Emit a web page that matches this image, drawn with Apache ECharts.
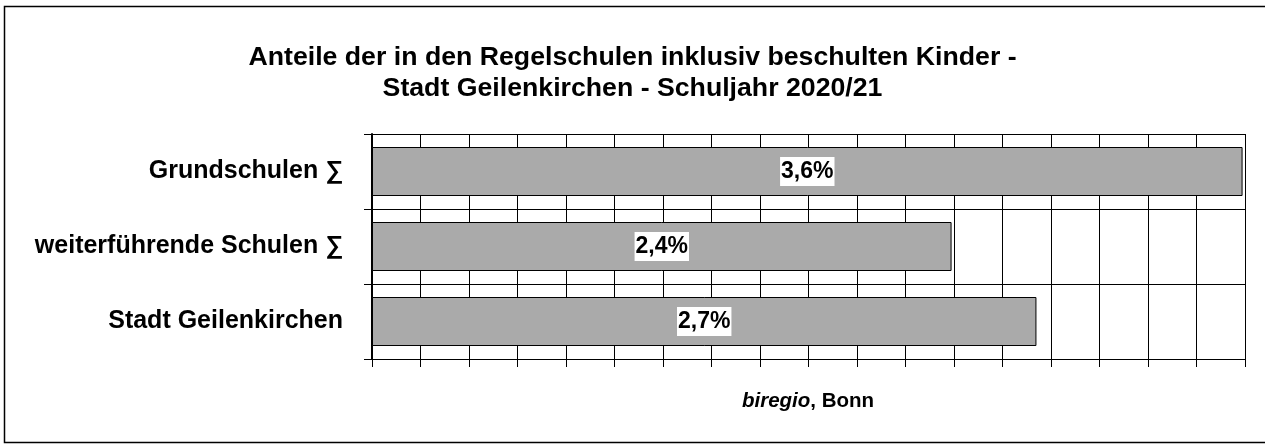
<!DOCTYPE html>
<html>
<head>
<meta charset="utf-8">
<script src="https://cdn.jsdelivr.net/npm/echarts@6/dist/echarts.min.js"></script>
<style>
html,body{margin:0;padding:0;background:#fff;}
#c{width:1265px;height:444px;}
</style>
</head>
<body>
<div id="c"></div>
<script>
var categories = ['Grundschulen \u2211', 'weiterführende Schulen \u2211', 'Stadt Geilenkirchen'];
var values = [3.59, 2.39, 2.74];
var valueLabels = ['3,6%', '2,4%', '2,7%'];
var titleLines = ['Anteile der in den Regelschulen inklusiv beschulten Kinder -', 'Stadt Geilenkirchen - Schuljahr 2020/21'];

var chart = echarts.init(document.getElementById('c'));
var FONT = '"Liberation Sans", Arial, sans-serif';
chart.setOption({
  backgroundColor: '#fff',
  animation: false,
  textStyle: { fontFamily: FONT },
  title: {
    text: titleLines.join('\n'),
    left: 'center',
    top: 37,
    textStyle: { fontFamily: FONT, fontSize: 26.7, fontWeight: 'bold', color: '#000', lineHeight: 31 }
  },
  grid: { left: 372, right: 20, top: 134, bottom: 85 },
  xAxis: {
    type: 'value',
    min: 0, max: 3.6, interval: 0.2,
    axisLabel: { show: false },
    axisLine: { show: true, lineStyle: { color: '#000', width: 1 } },
    axisTick: { show: true, length: 8, lineStyle: { color: '#000', width: 1 } },
    splitLine: { show: true, lineStyle: { color: '#000', width: 1 } }
  },
  yAxis: {
    type: 'category',
    data: categories,
    inverse: true,
    axisLine: { show: true, lineStyle: { color: '#000', width: 2 } },
    axisTick: { show: true, length: 8, lineStyle: { color: '#000', width: 1 } },
    splitLine: { show: true, lineStyle: { color: '#000', width: 1 } },
    axisLabel: { margin: 29, fontFamily: FONT, fontSize: 25, fontWeight: 'bold', color: '#000' }
  },
  series: [{
    type: 'bar',
    data: values,
    barWidth: 49,
    itemStyle: { color: '#aaaaaa', borderColor: '#000', borderWidth: 1 },
    label: {
      show: true,
      position: 'inside',
      formatter: function (p) { return valueLabels[p.dataIndex]; },
      color: '#000',
      backgroundColor: '#fff',
      padding: [4, 1, 2, 1],
      lineHeight: 23,
      fontFamily: FONT,
      fontSize: 23,
      fontWeight: 'bold'
    }
  }],
  graphic: [
    {
      type: 'rect',
      shape: { x: 4.5, y: 6.5, width: 1275, height: 436 },
      style: { fill: null, stroke: '#000', lineWidth: 1.5 },
      silent: true, z: 100
    },
    {
      type: 'text',
      left: 742,
      top: 391,
      style: {
        text: '{i|biregio}{b|, Bonn}',
        rich: {
          i: { fontFamily: FONT, fontSize: 20.5, fontWeight: 'bold', fontStyle: 'italic', fill: '#000' },
          b: { fontFamily: FONT, fontSize: 20.5, fontWeight: 'bold', fill: '#000' }
        }
      }
    }
  ]
});
</script>
</body>
</html>
